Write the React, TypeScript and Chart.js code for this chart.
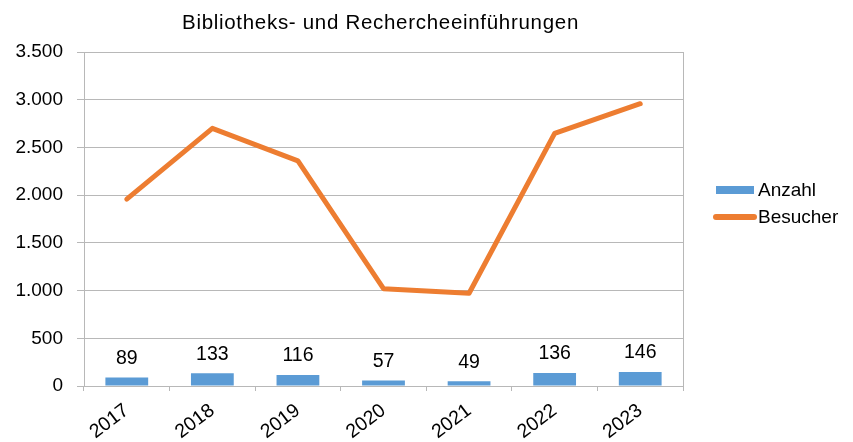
import React, { useEffect, useRef } from "react";
import { Chart, registerables } from "chart.js";

Chart.register(...registerables);

const chartTitle = "Bibliotheks- und Rechercheeinführungen";
const years = ["2017", "2018", "2019", "2020", "2021", "2022", "2023"];
const anzahl = [89, 133, 116, 57, 49, 136, 146];
const besucher = [1958, 2700, 2360, 1020, 972, 2647, 2958];
const seriesNames = ["Anzahl", "Besucher"];
const seriesColors = ["#5B9BD5", "#ED7D31"];
const yMax = 3500;
const yStep = 500;

const FONT = "'Liberation Sans', Arial, sans-serif";
const GRID = "#b8b8b8";

const fmt = (v: number) => String(v).replace(/\B(?=(\d{3})+(?!\d))/g, ".");

const decorPlugin = {
  id: "decor",
  afterDatasetsDraw(chart: any) {
    const ctx = chart.ctx;
    const area = chart.chartArea;
    ctx.save();
    // plot border (right side)
    ctx.strokeStyle = GRID;
    ctx.lineWidth = 1;
    ctx.beginPath();
    ctx.moveTo(Math.round(area.right) + 0.5, area.top);
    ctx.lineTo(Math.round(area.right) + 0.5, area.bottom);
    ctx.stroke();

    // data labels above bars
    const meta = chart.getDatasetMeta(0);
    ctx.fillStyle = "#000";
    ctx.font = `19.5px ${FONT}`;
    ctx.textAlign = "center";
    ctx.textBaseline = "middle";
    meta.data.forEach((bar: any, i: number) => {
      ctx.fillText(String(chart.data.datasets[0].data[i]), bar.x, bar.y - 19);
    });

    // title
    ctx.font = `20.5px ${FONT}`;
    (ctx as any).letterSpacing = "0.7px";
    ctx.textAlign = "center";
    ctx.textBaseline = "middle";
    ctx.fillText(chartTitle, (area.left + area.right) / 2 - 3, 23);
    (ctx as any).letterSpacing = "0px";

    // legend
    const lx = area.right + 30;
    const ly = [190, 217];
    ctx.font = `19px ${FONT}`;
    ctx.textAlign = "left";
    chart.data.datasets.forEach((ds: any, i: number) => {
      const y = ly[i];
      if (ds.type === "line") {
        ctx.strokeStyle = ds.borderColor;
        ctx.lineWidth = 6;
        ctx.lineCap = "round";
        ctx.beginPath();
        ctx.moveTo(lx + 3, y);
        ctx.lineTo(lx + 41, y);
        ctx.stroke();
      } else {
        ctx.fillStyle = ds.backgroundColor;
        ctx.fillRect(lx + 3, y - 4, 38, 8);
      }
      ctx.fillStyle = "#000";
      ctx.fillText(ds.label, lx + 45, y + 1);
    });
    ctx.restore();
  },
};

export default function App() {
  const ref = useRef<HTMLCanvasElement>(null);

  useEffect(() => {
    if (!ref.current) return;
    const chart = new Chart(ref.current, {
      type: "bar",
      data: {
        labels: years,
        datasets: [
          {
            type: "bar",
            label: seriesNames[0],
            data: anzahl,
            backgroundColor: seriesColors[0],
            borderWidth: 0,
            barPercentage: 0.5,
            categoryPercentage: 1,
            order: 2,
          },
          {
            type: "line",
            label: seriesNames[1],
            data: besucher,
            borderColor: seriesColors[1],
            backgroundColor: seriesColors[1],
            borderWidth: 5,
            borderCapStyle: "round",
            borderJoinStyle: "round",
            pointRadius: 0,
            tension: 0,
            order: 1,
          } as any,
        ],
      },
      options: {
        animation: false,
        responsive: true,
        maintainAspectRatio: false,
        layout: { padding: { top: 52, right: 170, left: 0, bottom: 0 } },
        plugins: {
          legend: { display: false },
          title: { display: false },
          tooltip: { enabled: false },
        },
        scales: {
          x: {
            grid: {
              offset: true,
              drawOnChartArea: false,
              drawTicks: true,
              tickLength: 5,
              tickColor: GRID,
              color: GRID,
            },
            border: { display: true, color: GRID },
            ticks: {
              color: "#000",
              font: { family: FONT, size: 19.5 },
              minRotation: 37,
              maxRotation: 37,
              padding: 8,
            },
            afterFit: (s: any) => {
              s.height = 56;
            },
          },
          y: {
            min: 0,
            max: yMax,
            grid: {
              color: GRID,
              tickLength: 7,
              tickColor: GRID,
            },
            border: { display: true, color: GRID },
            ticks: {
              stepSize: yStep,
              color: "#000",
              padding: 14,
              font: { family: FONT, size: 19 },
              callback: (v: any) => fmt(Number(v)),
            },
            afterFit: (s: any) => {
              s.width = 84;
            },
          },
        },
      },
      plugins: [decorPlugin],
    });
    return () => chart.destroy();
  }, []);

  return (
    <div style={{ position: "fixed", left: 0, top: 0, width: 853, height: 442, background: "#fff" }}>
      <canvas ref={ref} />
    </div>
  );
}
